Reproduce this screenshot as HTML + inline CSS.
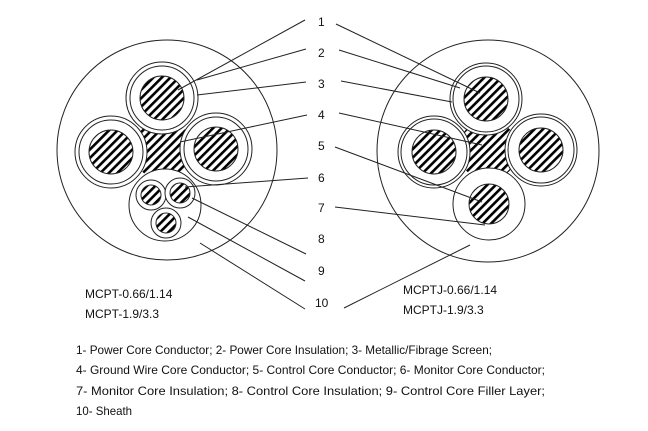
<!DOCTYPE html>
<html><head><meta charset="utf-8"><style>
html,body{margin:0;padding:0;background:#fff;}
svg{display:block;}
text{font-family:"Liberation Sans",sans-serif;fill:#111;}
</style></head><body>
<svg width="648" height="431" viewBox="0 0 648 431" xmlns="http://www.w3.org/2000/svg">
<defs>
<pattern id="h" width="6" height="6" patternUnits="userSpaceOnUse" patternTransform="rotate(45)">
<rect width="6" height="6" fill="#fff"/><rect x="0" y="0" width="2.6" height="6" fill="#000"/>
</pattern>
</defs>
<g stroke="#222" stroke-width="1" fill="#fff">
<!-- LEFT -->
<circle cx="167" cy="150" r="110"/>
<circle cx="163" cy="150" r="30" fill="url(#h)" stroke="none"/>
<g>
<circle cx="162" cy="98" r="36"/><circle cx="162" cy="98" r="32"/><circle cx="162" cy="98" r="22" fill="url(#h)"/>
<circle cx="111" cy="152" r="36"/><circle cx="111" cy="152" r="32"/><circle cx="111" cy="152" r="22" fill="url(#h)"/>
<circle cx="216" cy="149" r="36"/><circle cx="216" cy="149" r="32"/><circle cx="216" cy="149" r="22" fill="url(#h)"/>
<circle cx="165" cy="205" r="36"/>
<circle cx="151" cy="195" r="15"/><circle cx="151" cy="195" r="10" fill="url(#h)"/>
<circle cx="180" cy="193" r="15"/><circle cx="180" cy="193" r="10" fill="url(#h)"/>
<circle cx="166" cy="223" r="15"/><circle cx="166" cy="223" r="10" fill="url(#h)"/>
</g>
<!-- RIGHT -->
<circle cx="488" cy="151" r="111"/>
<circle cx="488" cy="150" r="30" fill="url(#h)" stroke="none"/>
<circle cx="486" cy="99" r="36"/><circle cx="486" cy="99" r="33"/><circle cx="486" cy="99" r="22" fill="url(#h)"/>
<circle cx="434" cy="152" r="36"/><circle cx="434" cy="152" r="33"/><circle cx="434" cy="152" r="22" fill="url(#h)"/>
<circle cx="541" cy="150" r="36"/><circle cx="541" cy="150" r="33"/><circle cx="541" cy="150" r="22" fill="url(#h)"/>
<circle cx="489" cy="204" r="36"/><circle cx="489" cy="204" r="20" fill="url(#h)"/>
</g>
<g stroke="#222" stroke-width="1" fill="none">
<line x1="305" y1="20" x2="178" y2="90"/>
<line x1="306" y1="49" x2="197" y2="80"/>
<line x1="306" y1="82" x2="197" y2="95"/>
<line x1="307" y1="115" x2="180" y2="142"/>
<line x1="308" y1="178" x2="185" y2="187"/>
<line x1="306" y1="254" x2="192" y2="198"/>
<line x1="305" y1="281" x2="188" y2="217"/>
<line x1="305" y1="309" x2="200" y2="243"/>
<line x1="336" y1="24" x2="480" y2="93"/>
<line x1="339" y1="50" x2="460" y2="88"/>
<line x1="341" y1="81" x2="452" y2="102"/>
<line x1="339" y1="113" x2="482" y2="145"/>
<line x1="335" y1="147" x2="482" y2="202"/>
<line x1="335" y1="207" x2="485" y2="225"/>
<line x1="344" y1="308" x2="470" y2="245"/>
</g>
<g font-size="12">
<text x="318" y="26">1</text><text x="318" y="57">2</text><text x="318" y="88">3</text>
<text x="318" y="119">4</text><text x="318" y="150">5</text><text x="318" y="182">6</text>
<text x="318" y="212">7</text><text x="318" y="243">8</text><text x="318" y="275">9</text>
<text x="315" y="307">10</text>
<text x="85" y="298">MCPT-0.66/1.14</text>
<text x="85" y="318">MCPT-1.9/3.3</text>
<text x="403" y="294">MCPTJ-0.66/1.14</text>
<text x="403" y="314">MCPTJ-1.9/3.3</text>
<text x="76" y="354" textLength="416" lengthAdjust="spacingAndGlyphs">1- Power Core Conductor; 2- Power Core Insulation; 3- Metallic/Fibrage Screen;</text>
<text x="76" y="374" textLength="469" lengthAdjust="spacingAndGlyphs">4- Ground Wire Core Conductor; 5- Control Core Conductor; 6- Monitor Core Conductor;</text>
<text x="76" y="395" textLength="469" lengthAdjust="spacingAndGlyphs">7- Monitor Core Insulation; 8- Control Core Insulation; 9- Control Core Filler Layer;</text>
<text x="76" y="415" textLength="56" lengthAdjust="spacingAndGlyphs">10- Sheath</text>
</g>
</svg>
</body></html>
